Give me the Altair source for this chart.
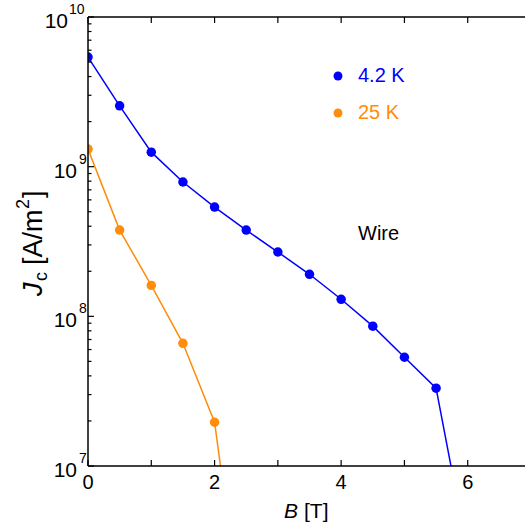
import altair as alt
import pandas as pd

# ---- data ----
B_42K = [0.0, 0.5, 1.0, 1.5, 2.0, 2.5, 3.0, 3.5, 4.0, 4.5, 5.0, 5.5, 6.0]
JC_42K = [5.4e9, 2.55e9, 1.25e9, 7.9e8, 5.37e8, 3.77e8, 2.69e8, 1.91e8, 1.30e8, 8.6e7, 5.33e7, 3.31e7, 2.6e6]
B_25K = [0.0, 0.5, 1.0, 1.5, 2.0, 2.5]
JC_25K = [1.31e9, 3.77e8, 1.61e8, 6.6e7, 1.96e7, 5.4e5]
SERIES = ["4.2 K", "25 K"]
COLORS = ["#0000ff", "#ff8c0a"]

Y_MAJOR = [1e7, 1e8, 1e9, 1e10]
Y_EXP = ["7", "8", "9", "10"]
Y_MINOR = [m * 10 ** e for e in (7, 8, 9) for m in range(2, 10)]
X_TICKS = [0, 1, 2, 3, 4, 5, 6]
X_LABELS = [0, 2, 4, 6]

W, H = 437, 449
FONT = "Liberation Sans"
xs = alt.Scale(domain=[0, 6.905], nice=False, zero=False)
ys = alt.Scale(type="log", domain=[1e7, 1e10], nice=False)

df = pd.DataFrame({
    "B": B_42K + B_25K,
    "Jc": JC_42K + JC_25K,
    "series": [SERIES[0]] * len(B_42K) + [SERIES[1]] * len(B_25K),
})
color = alt.Color("series:N", scale=alt.Scale(domain=SERIES, range=COLORS), legend=None)

base = alt.Chart(df).encode(
    x=alt.X("B:Q", scale=xs, axis=None),
    y=alt.Y("Jc:Q", scale=ys, axis=None),
    color=color,
    detail="series:N",
)
lines = base.mark_line(clip=True, strokeWidth=1.5)
points = base.mark_circle(size=90, opacity=1, clip=True)

one = alt.Data(values=[{}])

# frame
frame_left = alt.Chart(one).mark_rule(color="black", strokeWidth=1.5).encode(
    x=alt.value(0), y=alt.value(0), y2=alt.value(H))
frame_bottom = alt.Chart(one).mark_rule(color="black", strokeWidth=1.5).encode(
    x=alt.value(0), x2=alt.value(W), y=alt.value(H))
frame_top = alt.Chart(one).mark_rule(color="black", strokeWidth=1.5).encode(
    x=alt.value(0), x2=alt.value(W), y=alt.value(0))

ymaj = pd.DataFrame({"v": Y_MAJOR, "e": Y_EXP})
ymin = pd.DataFrame({"v": Y_MINOR})
xt = pd.DataFrame({"v": X_TICKS})
xl = pd.DataFrame({"v": X_LABELS, "t": [str(v) for v in X_LABELS]})

ytick_major = alt.Chart(ymaj).mark_rule(color="black", strokeWidth=1.2).encode(
    y=alt.Y("v:Q", scale=ys, axis=None), x=alt.value(0), x2=alt.value(6))
ytick_minor = alt.Chart(ymin).mark_rule(color="black", strokeWidth=1.2).encode(
    y=alt.Y("v:Q", scale=ys, axis=None), x=alt.value(0), x2=alt.value(3.5))
xtick_bottom = alt.Chart(xt).mark_rule(color="black", strokeWidth=1.2).encode(
    x=alt.X("v:Q", scale=xs, axis=None), y=alt.value(H), y2=alt.value(H - 6))
xtick_top = alt.Chart(xt).mark_rule(color="black", strokeWidth=1.2).encode(
    x=alt.X("v:Q", scale=xs, axis=None), y=alt.value(0), y2=alt.value(6))

# y tick labels: "10" + superscript exponent
ylab_base = alt.Chart(ymaj).transform_filter("datum.v < 1e10").mark_text(
    text="10", align="right", baseline="middle", fontSize=21, font=FONT, dy=5, color="black"
).encode(y=alt.Y("v:Q", scale=ys, axis=None), x=alt.value(-11))
ylab_exp = alt.Chart(ymaj).transform_filter("datum.v < 1e10").mark_text(
    align="left", baseline="middle", fontSize=14, font=FONT, dy=-7, color="black"
).encode(y=alt.Y("v:Q", scale=ys, axis=None), x=alt.value(-9), text="e:N")
ylab_base10 = alt.Chart(ymaj).transform_filter("datum.v >= 1e10").mark_text(
    text="10", align="right", baseline="middle", fontSize=21, font=FONT, dy=5, color="black"
).encode(y=alt.Y("v:Q", scale=ys, axis=None), x=alt.value(-20))
ylab_exp10 = alt.Chart(ymaj).transform_filter("datum.v >= 1e10").mark_text(
    align="left", baseline="middle", fontSize=14, font=FONT, dy=-7, color="black"
).encode(y=alt.Y("v:Q", scale=ys, axis=None), x=alt.value(-19), text="e:N")

xlab = alt.Chart(xl).mark_text(
    align="center", baseline="middle", fontSize=20, font=FONT, color="black"
).encode(x=alt.X("v:Q", scale=xs, axis=None), y=alt.value(H + 17), text="t:N")

# axis titles
xt_B = alt.Chart(one).mark_text(text="B", align="right", baseline="alphabetic", fontSize=21,
                                 font=FONT, fontStyle="italic", color="black").encode(
    x=alt.value(210), y=alt.value(501))
xt_rest = alt.Chart(one).mark_text(text="[T]", align="left", baseline="alphabetic", fontSize=21,
                                    font=FONT, color="black").encode(
    x=alt.value(216), y=alt.value(501))

YB = -46  # baseline x of rotated y title
yt_J = alt.Chart(one).mark_text(text="J", angle=270, align="left", baseline="alphabetic", fontSize=27,
                                 font=FONT, fontStyle="italic", color="black").encode(
    x=alt.value(YB), y=alt.value(279))
yt_c = alt.Chart(one).mark_text(text="c", angle=270, align="left", baseline="alphabetic", fontSize=18,
                                 font=FONT, color="black").encode(
    x=alt.value(YB + 5), y=alt.value(264))
yt_mid = alt.Chart(one).mark_text(text="[A/m", angle=270, align="left", baseline="alphabetic", fontSize=27,
                                   font=FONT, color="black").encode(
    x=alt.value(YB), y=alt.value(248))
yt_2 = alt.Chart(one).mark_text(text="2", angle=270, align="left", baseline="alphabetic", fontSize=18,
                                 font=FONT, color="black").encode(
    x=alt.value(YB - 13), y=alt.value(192))
yt_end = alt.Chart(one).mark_text(text="]", angle=270, align="left", baseline="alphabetic", fontSize=27,
                                   font=FONT, color="black").encode(
    x=alt.value(YB), y=alt.value(181))

# legend
leg = []
for i, (lab, col) in enumerate(zip(SERIES, COLORS)):
    yy = 59 + 37 * i
    leg.append(alt.Chart(one).mark_circle(size=80, opacity=1, color=col).encode(
        x=alt.value(250), y=alt.value(yy)))
    leg.append(alt.Chart(one).mark_text(text=lab, align="left", baseline="middle", fontSize=20,
                                        font=FONT, color=col).encode(
        x=alt.value(270), y=alt.value(yy)))

wire = alt.Chart(one).mark_text(text="Wire", align="left", baseline="middle", fontSize=20,
                                font=FONT, color="black").encode(x=alt.value(270), y=alt.value(217))

chart = alt.layer(
    lines, points,
    ytick_major, ytick_minor, xtick_bottom, xtick_top,
    frame_left, frame_bottom, frame_top,
    ylab_base, ylab_exp, ylab_base10, ylab_exp10, xlab,
    xt_B, xt_rest, yt_J, yt_c, yt_mid, yt_2, yt_end,
    *leg, wire,
).properties(
    width=W, height=H,
    autosize=alt.AutoSizeParams(type="none"),
    padding={"left": 88, "top": 17, "right": 0, "bottom": 63},
    background="white",
).configure_view(stroke=None)

chart.save("out.html", embed_options={"renderer": "svg", "actions": False})
